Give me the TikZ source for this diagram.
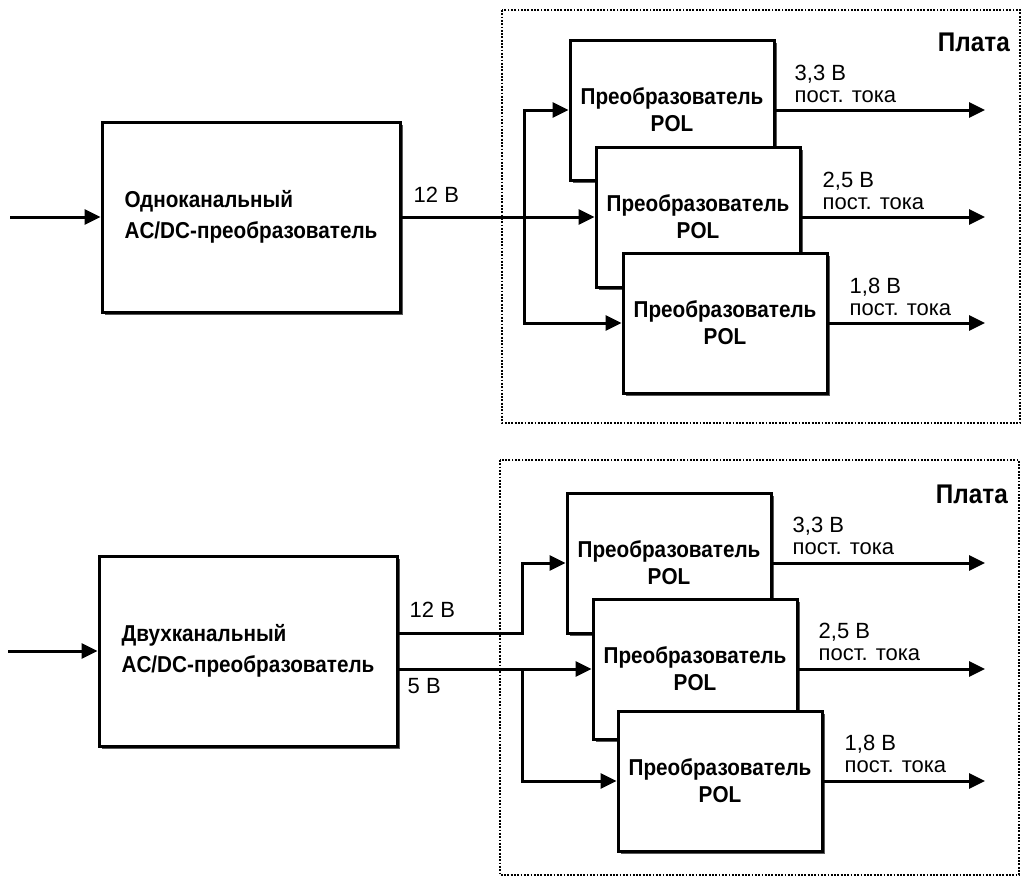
\documentclass[tikz,border=0pt]{standalone}
\usepackage{fontspec}
\setmainfont{Liberation Sans}
\newfontfamily\narrowfont[FakeStretch=0.9]{Liberation Sans}
\usepackage{tikz}
\usetikzlibrary{arrows.meta, shadows}
\tikzset{%
	block/.style = { draw, line width=3pt, fill=white, inner sep=0pt,
		drop shadow={shadow xshift=2.5pt, shadow yshift=-2.5pt, fill=black!65, opacity=1} },
	acdc/.style = { block, minimum width=298pt, minimum height=190pt, align=left, font=\narrowfont\fontsize{23}{31}\selectfont\bfseries },
	pol/.style = { block, minimum width=204pt, minimum height=140pt, align=center, font=\narrowfont\fontsize{23}{27}\selectfont\bfseries },
	wire/.style = { line width=3pt, -{Triangle[length=16pt,width=15pt]} },
	volt/.style = { anchor=south west, align=left, inner sep=0pt, font=\fontsize{22}{22}\selectfont },
	vin/.style = { inner sep=0pt, font=\fontsize{22}{22}\selectfont },
	board/.style = { line width=1.8pt, dash pattern=on 1.8pt off 1.5pt },
	platalabel/.style = { anchor=north east, inner sep=0pt, font=\narrowfont\fontsize{27}{27}\selectfont\bfseries }
}
\begin{document}
\begin{tikzpicture}[x=1pt, y=-1pt]
	\useasboundingbox (0,0) rectangle (1024,881);
	\coordinate (end) at (985,0);
	% 1. 单通道 AC/DC
	\begin{scope}
		\draw[board] (502,10) rectangle (1020,423);
		\node[platalabel] (plata1) at (1010,33) {Плата};
		\node[acdc] (acdc1) at (251,217) {Одноканальный\\AC/DC-преобразователь};
		\coordinate (in1) at (10,217);
		\draw[wire] (in1) -- (acdc1.west);
		\node[pol] (pol1) at (672,110) {Преобразователь\\POL};
		\node[pol] (pol2) at (698,217) {Преобразователь\\POL};
		\node[pol] (pol3) at (725,323) {Преобразователь\\POL};
		% 分支点
		\coordinate (br1) at (524,217);
		\draw[wire] (acdc1.east) -- (pol2.west);
		\draw[wire] (br1) |- (pol1.west);
		\draw[wire] (br1) |- (pol3.west);
		\node[vin, anchor=south west] (u1) at ([shift={(12,-14)}]acdc1.east) {12 В};
		\draw[wire] (pol1.east) -- (pol1.east -| end);
		\draw[wire] (pol2.east) -- (pol2.east -| end);
		\draw[wire] (pol3.east) -- (pol3.east -| end);
		\node[volt] (v1) at ([shift={(19,-7)}]pol1.east) {3,3 В\\пост. тока};
		\node[volt] (v2) at ([shift={(21,-7)}]pol2.east) {2,5 В\\пост. тока};
		\node[volt] (v3) at ([shift={(21,-7)}]pol3.east) {1,8 В\\пост. тока};
	\end{scope}

	% 2. 双通道 AC/DC
	\begin{scope}
		\draw[board] (500,460) rectangle (1019,875);
		\node[platalabel] (plata2) at (1008,485) {Плата};
		\node[acdc] (acdc2) at (248,651) {Двухканальный\\AC/DC-преобразователь};
		\coordinate (in2) at (8,651);
		\draw[wire] (in2) -- (acdc2.west);
		\node[pol] (pol4) at (669,563) {Преобразователь\\POL};
		\node[pol] (pol5) at (695,669) {Преобразователь\\POL};
		\node[pol] (pol6) at (720,781) {Преобразователь\\POL};
		% 12 В 和 5 В 两路输出
		\coordinate (a12) at ([yshift=18pt]acdc2.east);
		\coordinate (a5) at ([yshift=-18pt]acdc2.east);
		\coordinate (kx) at (522,0);
		\draw[wire] (a12) -- (a12 -| kx) |- (pol4.west);
		\draw[wire] (a5) -- (pol5.west);
		\draw[wire] (a5 -| kx) |- (pol6.west);
		\node[vin, anchor=south west] (u2) at ([shift={(11,-15)}]a12) {12 В};
		\node[vin, anchor=north west] (u3) at ([shift={(9,9)}]a5) {5 В};
		\draw[wire] (pol4.east) -- (pol4.east -| end);
		\draw[wire] (pol5.east) -- (pol5.east -| end);
		\draw[wire] (pol6.east) -- (pol6.east -| end);
		\node[volt] (v4) at ([shift={(20,-8)}]pol4.east) {3,3 В\\пост. тока};
		\node[volt] (v5) at ([shift={(20,-8)}]pol5.east) {2,5 В\\пост. тока};
		\node[volt] (v6) at ([shift={(21,-8)}]pol6.east) {1,8 В\\пост. тока};
	\end{scope}
\end{tikzpicture}
\end{document}
